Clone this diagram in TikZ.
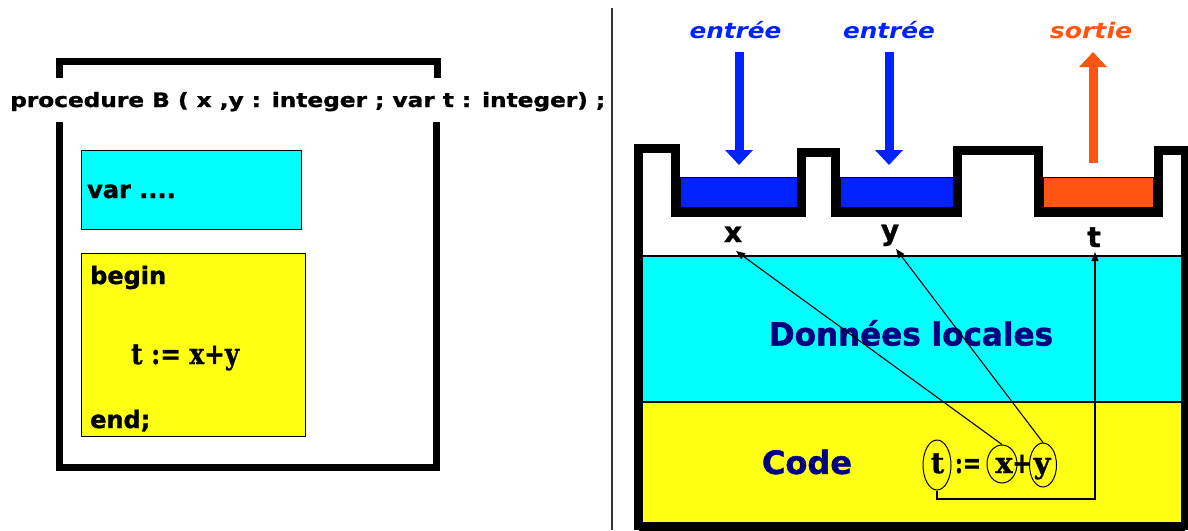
\documentclass[tikz,border=0pt]{standalone}
\usepackage{fontspec}
\usepackage{graphicx}
\usetikzlibrary{arrows.meta,shapes.geometric}
\newfontfamily\sansf{Liberation Sans}
\newfontfamily\heavyf{DejaVu Sans}[BoldFeatures={FakeBold=1.3}]
\newfontfamily\slabf{DejaVu Serif}[BoldFeatures={FakeBold=1.0}]
\newcommand\fsz[1]{\fontsize{#1}{#1}\selectfont}
\definecolor{blueC}{RGB}{0,34,255}
\definecolor{orangeC}{RGB}{255,85,17}
\definecolor{cyanC}{RGB}{0,255,255}
\definecolor{yellowC}{RGB}{255,255,20}
\definecolor{navyC}{RGB}{0,0,128}
\begin{document}
\begin{tikzpicture}[x=1pt,y=-1pt,
  bracketline/.style={line width=7pt,line join=miter,line cap=butt},
  wall/.style={line width=9pt,line join=miter,line cap=butt},
  lefttxt/.style={anchor=base west,inner sep=0pt,font=\heavyf\bfseries\fsz{24}},
  toptxt/.style={anchor=base,inner sep=0pt,font=\heavyf\bfseries\itshape\fsz{21.5}},
  bigtxt/.style={anchor=center,inner sep=0pt,text=navyC,font=\heavyf\bfseries\fsz{32}},
  lbl/.style={anchor=base,inner sep=0pt,font=\heavyf\bfseries\fsz{28}},
  formula/.style={anchor=base,inner sep=0pt,font=\slabf\bfseries\fsz{29}},
  ell/.style={ellipse,draw,line width=1pt,inner sep=0pt},
  bigarrow/.style={line width=9pt,-{Triangle[length=15pt,width=27pt]}},
  thinarrow/.style={line width=1.1pt,-{Triangle[length=9pt,width=7pt]}},
  thinline/.style={line width=1.1pt}]
\useasboundingbox (0,0) rectangle (1188,530);
\fill[white] (0,0) rectangle (1188,530);

% ---------------- left panel ----------------
\draw[bracketline] (59,78) -- (59,61) -- (437,61) -- (437,78);
\draw[bracketline] (59,122) -- (59,467) -- (436,467) -- (436,122);
\node[anchor=base west,inner sep=0pt,font=\heavyf\bfseries] (title) at (10,107)
  {\resizebox{595pt}{15pt}{procedure B ( x ,y : integer ; var t : integer) ;}};

\node[draw,fill=cyanC,line width=1pt,anchor=north west,minimum width=220pt,minimum height=79pt,inner sep=0pt] (varbox) at (81,150) {};
\node[lefttxt] (vartxt) at (87,198) {var ....};

\node[draw,fill=yellowC,line width=1pt,anchor=north west,minimum width=224pt,minimum height=183pt,inner sep=0pt] (codebox) at (81,253) {};
\node[lefttxt] (begintxt) at (90,284) {begin};
\node[anchor=base west,inner sep=0pt,font=\slabf\bfseries\fsz{29}] (assign) at (131,364) {\scalebox{0.85}[1]{t := x+y}};
\node[lefttxt] (endtxt) at (90,428) {end;};

% separator
\draw[line width=2pt,black!80] (612,8) -- (612,530);

% ---------------- right panel ----------------
\fill[cyanC] (643,256) rectangle (1181,402);
\fill[yellowC] (643,402) rectangle (1181,522);
\draw[thinline] (643,256) -- (1181,256);
\draw[thinline] (643,402) -- (1181,402);

\draw[fill=blueC,line width=1pt] (680,177) rectangle (797,207);
\draw[fill=blueC,line width=1pt] (840,177) rectangle (953,207);
\draw[fill=orangeC,line width=1pt] (1043,177) rectangle (1153,207);

\draw[wall] (638.5,530) -- (638.5,148) -- (675.5,148) -- (675.5,212) -- (801.5,212)
  -- (801.5,152) -- (835,152) -- (835,212) -- (957.5,212) -- (957.5,150)
  -- (1038,150) -- (1038,212) -- (1158,212) -- (1158,150) -- (1185,150) -- (1185,530);
\draw[wall] (638.5,526) -- (1185,526);

% top labels and thick arrows
\node[toptxt,text=blueC] (in1) at (735.5,38) {\scalebox{1.15}[1]{entrée}};
\node[toptxt,text=blueC] (in2) at (889,38) {\scalebox{1.15}[1]{entrée}};
\node[toptxt,text=orangeC] (out) at (1091,38) {\scalebox{1.17}[1]{sortie}};
\coordinate (in1a) at (739,52);  \coordinate (in1b) at (739,165);
\coordinate (in2a) at (889,52);  \coordinate (in2b) at (889,165);
\coordinate (outa) at (1093,163); \coordinate (outb) at (1093,52);
\draw[bigarrow,blueC] (in1a) -- (in1b);
\draw[bigarrow,blueC] (in2a) -- (in2b);
\draw[bigarrow,orangeC] (outa) -- (outb);

% parameter labels
\node[lbl] (lx) at (733,242) {x};
\node[lbl] (ly) at (890,240) {y};
\node[lbl] (lt) at (1094,247) {t};

% big captions
\node[bigtxt] (donnees) at (911,333) {\scalebox{0.97}[1]{Données locales}};
\node[bigtxt] (code) at (807,462) {Code};

% formula with ellipses
\node[ell,minimum width=28pt,minimum height=50pt] (et) at (937,465) {};
\node[ell,minimum width=30pt,minimum height=38pt] (ex) at (1002,464) {};
\node[ell,minimum width=27pt,minimum height=44pt] (ey) at (1043,465) {};
\node[formula] (ft) at (937.5,473) {t};
\node[formula] (fas) at (968,473) {\scalebox{0.75}[1]{:=}};
\node[formula] (fx) at (1004,473) {x};
\node[formula] (fp) at (1022,473) {\scalebox{0.8}[1]{+}};
\node[formula] (fy) at (1042,473) {y};

% connectors
\coordinate (tipx) at (736,251);
\coordinate (tipy) at (896,249);
\coordinate (tipt) at (1095,252);
\coordinate (bot) at (1095,499);
\draw[thinarrow] (ex.north) -- (tipx);
\draw[thinarrow] (ey.north) -- (tipy);
\draw[thinarrow] (et.south) |- (bot) -- (tipt);
\end{tikzpicture}
\end{document}
